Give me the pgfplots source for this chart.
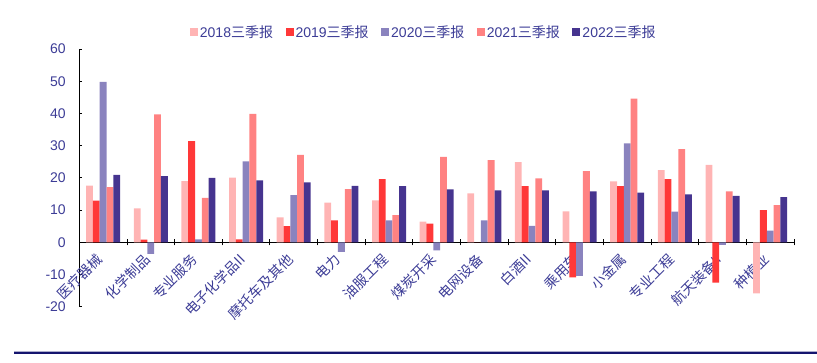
\documentclass[border=0pt]{standalone}
\usepackage{fontspec}
\setmainfont{Liberation Sans}
\newfontfamily\cjk{Noto Sans CJK SC}
\usepackage{pgfplots}
\pgfplotsset{compat=1.18}
\definecolor{cA}{HTML}{FFB4B4}
\definecolor{cB}{HTML}{FF3838}
\definecolor{cC}{HTML}{8A83BE}
\definecolor{cD}{HTML}{FF8282}
\definecolor{cE}{HTML}{46348F}
\definecolor{labc}{HTML}{3C3C96}
\definecolor{navy}{HTML}{14146E}
\begin{document}
\begin{tikzpicture}[x=1pt,y=1pt]
\useasboundingbox (0,0) rectangle (817,362);
\begin{axis}[
  at={(79.3pt,55.3pt)}, anchor=south west,
  scale only axis, width=714.7pt, height=257.7pt,
  xmin=0.5, xmax=15.5, ymin=-20, ymax=60,
  axis x line*=middle, axis y line*=left,
  axis line style={black, line width=1pt},
  ybar=0pt, bar width=6.8pt,
  xtick={1,...,15},
  xticklabels={医疗器械,化学制品,专业服务,电子化学品II,摩托车及其他,电力,油服工程,煤炭开采,电网设备,白酒II,乘用车,小金属,专业工程,航天装备II,种植业},
  minor xtick={1.5,2.5,...,15.5},
  ytick={-20,-10,...,60},
  major x tick style={draw=none},
  minor tick length=6pt, major tick length=3pt,
  xtick align=center, ytick align=inside,
  tick style={black, line width=0.8pt},
  /pgf/number format/assume math mode=true,
  yticklabel style={font=\fontsize{14}{16}\selectfont, text=labc, xshift=-10pt},
  xticklabel style={font=\cjk\fontsize{14}{16}\selectfont, text=labc, xshift=-1pt, yshift=-11pt, rotate=45, anchor=east},
  legend columns=5,
  legend style={draw=none, fill=none, at={(0.482,1.066)}, anchor=center,
    font=\fontsize{14}{16}\selectfont, text=labc,
    /tikz/every even column/.append style={column sep=10.5pt}},
  every axis plot post/.append style={legend image code/.code={\fill[##1] (0pt,-4pt) rectangle (8pt,4pt);}},
]
\addplot[fill=cA, draw=none] coordinates {(1,17.6) (2,10.5) (3,19.0) (4,20.1) (5,7.7) (6,12.3) (7,13.0) (8,6.4) (9,15.2) (10,24.9) (11,9.6) (12,18.9) (13,22.4) (14,24.0) (15,-15.9)};
\addplot[fill=cB, draw=none] coordinates {(1,12.9) (2,0.8) (3,31.4) (4,0.9) (5,5.0) (6,6.8) (7,19.6) (8,5.8) (9,0) (10,17.4) (11,-10.9) (12,17.4) (13,19.6) (14,-12.5) (15,10.0)};
\addplot[fill=cC, draw=none] coordinates {(1,49.8) (2,-3.6) (3,0.9) (4,25.1) (5,14.6) (6,-3.0) (7,6.8) (8,-2.5) (9,6.8) (10,5.1) (11,-10.4) (12,30.7) (13,9.5) (14,-0.8) (15,3.6)};
\addplot[fill=cD, draw=none] coordinates {(1,17.1) (2,39.7) (3,13.8) (4,39.9) (5,27.1) (6,16.5) (7,8.4) (8,26.5) (9,25.5) (10,19.8) (11,22.1) (12,44.6) (13,28.9) (14,15.8) (15,11.5)};
\addplot[fill=cE, draw=none] coordinates {(1,20.9) (2,20.5) (3,20.0) (4,19.2) (5,18.6) (6,17.5) (7,17.4) (8,16.4) (9,16.1) (10,16.1) (11,15.8) (12,15.4) (13,14.9) (14,14.4) (15,14.0)};
\legend{2018{\cjk 三季报},2019{\cjk 三季报},2020{\cjk 三季报},2021{\cjk 三季报},2022{\cjk 三季报}}
\end{axis}
\draw[line width=0.8pt, color=navy!35] (14,10.8) -- (817,10.8);
\draw[line width=2pt, color=navy] (14,9) -- (817,9);
\end{tikzpicture}
\end{document}
